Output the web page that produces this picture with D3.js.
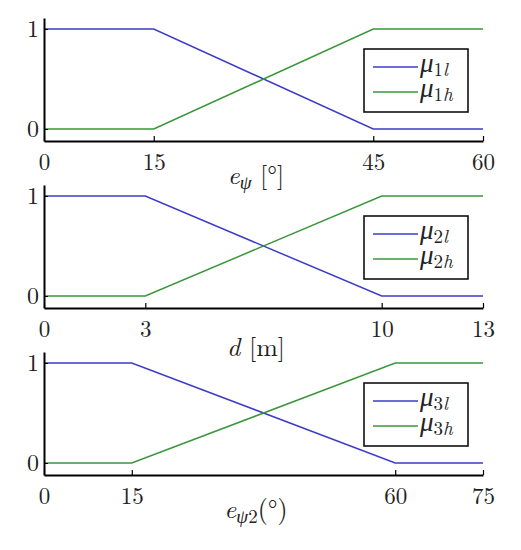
<!DOCTYPE html>
<html>
<head>
<meta charset="utf-8">
<script src="https://cdn.jsdelivr.net/npm/d3@7"></script>
</head>
<body style="margin:0;background:#fff">
<div id="chart"></div>
<script>
// breakpoints and membership values, one set per panel
const xs1 = [0, 15, 45, 60];
const low1 = [1, 1, 0, 0];
const high1 = [0, 0, 1, 1];
const xs2 = [0, 3, 10, 13];
const low2 = [1, 1, 0, 0];
const high2 = [0, 0, 1, 1];
const xs3 = [0, 15, 60, 75];
const low3 = [1, 1, 0, 0];
const high3 = [0, 0, 1, 1];
const yTicks = [0, 1];
const legendIdx = ["1", "2", "3"];

(function () {
    const width = 521, height = 550;
    const font = '"Latin Modern Roman", "Liberation Serif", serif';
    const svg = d3.select("#chart")
        .append("svg")
        .attr("width", width)
        .attr("height", height);
    const blue = "#3c3cc8", green = "#3a963a";
    const left = 44, right = 483, ph = 123;

    const panels = [
        { top: 18, xs: xs1, low: low1, high: high1, idx: legendIdx[0], label: "psi" },
        { top: 185, xs: xs2, low: low2, high: high2, idx: legendIdx[1], label: "d" },
        { top: 352, xs: xs3, low: low3, high: high3, idx: legendIdx[2], label: "psi2" }
    ];

    panels.forEach(p => {
        const g = svg.append("g");
        const bottom = p.top + ph;
        const x = d3.scaleLinear()
            .domain([p.xs[0], p.xs[p.xs.length - 1]])
            .range([left, right]);
        const y = d3.scaleLinear()
            .domain([-0.12, 1.11])
            .range([bottom, p.top]);

        const line = d3.line()
            .x(d => x(d[0]))
            .y(d => y(d[1]));
        g.append("path")
            .datum(p.xs.map((v, i) => [v, p.low[i]]))
            .attr("d", line)
            .attr("fill", "none")
            .attr("stroke", blue)
            .attr("stroke-width", 1.5);
        g.append("path")
            .datum(p.xs.map((v, i) => [v, p.high[i]]))
            .attr("d", line)
            .attr("fill", "none")
            .attr("stroke", green)
            .attr("stroke-width", 1.5);

        // x axis
        g.append("g")
            .attr("transform", `translate(0,${bottom})`)
            .call(d3.axisBottom(x).tickValues(p.xs).tickSize(-5).tickSizeOuter(0).tickFormat(d3.format("d")))
            .call(a => {
                a.select(".domain").attr("stroke-width", 2);
                a.selectAll(".tick line").attr("stroke-width", 1.2);
                a.selectAll("text")
                    .attr("y", 13)
                    .style("font-family", font)
                    .style("font-size", "23px")
                    .attr("fill", "#222");
            });
        // y axis
        g.append("g")
            .attr("transform", `translate(${left},0)`)
            .call(d3.axisLeft(y).tickValues(yTicks).tickSize(-4).tickSizeOuter(0).tickFormat(d3.format("d")))
            .call(a => {
                a.select(".domain").attr("stroke-width", 2);
                a.selectAll("text")
                    .attr("x", -5)
                    .style("font-family", font)
                    .style("font-size", "24px")
                    .attr("fill", "#222");
            });

        // legend
        const lg = g.append("g");
        const ly = p.top + 31;
        lg.append("rect")
            .attr("x", 364)
            .attr("y", ly)
            .attr("width", 104)
            .attr("height", 63)
            .attr("fill", "#fff")
            .attr("stroke", "#111")
            .attr("stroke-width", 1.6);
        [["l", blue, 18], ["h", green, 43]].forEach(([s, c, dy]) => {
            lg.append("line")
                .attr("x1", 373).attr("x2", 418)
                .attr("y1", ly + dy).attr("y2", ly + dy)
                .attr("stroke", c)
                .attr("stroke-width", 1.5);
            const t = lg.append("text")
                .attr("x", 420)
                .attr("y", ly + dy + 5)
                .style("font-family", font)
                .style("font-size", "27px")
                .attr("fill", "#222");
            t.append("tspan").style("font-style", "italic").text("μ");
            t.append("tspan").attr("dy", 4).style("font-size", "19px").text(p.idx);
            t.append("tspan").style("font-size", "19px").style("font-style", "italic").text(s);
        });

        // axis label
        const t = g.append("text")
            .attr("x", 256)
            .attr("y", bottom + 43)
            .attr("text-anchor", "middle")
            .style("font-family", font)
            .style("font-size", "26px")
            .attr("fill", "#222");
        if (p.label === "d") {
            t.attr("y", bottom + 48);
            t.append("tspan").style("font-style", "italic").text("d");
            t.append("tspan").text(" [m]");
        } else if (p.label === "psi") {
            t.append("tspan").style("font-style", "italic").text("e");
            t.append("tspan").attr("dy", 5).style("font-size", "19px").style("font-style", "italic").text("ψ");
            t.append("tspan").attr("dy", -5).text("  [°]");
        } else {
            t.append("tspan").style("font-style", "italic").text("e");
            t.append("tspan").attr("dy", 5).style("font-size", "19px").style("font-style", "italic").text("ψ");
            t.append("tspan").style("font-size", "19px").text("2");
            t.append("tspan").attr("dy", -5).text("(°)");
        }
    });
})();
</script>
</body>
</html>
